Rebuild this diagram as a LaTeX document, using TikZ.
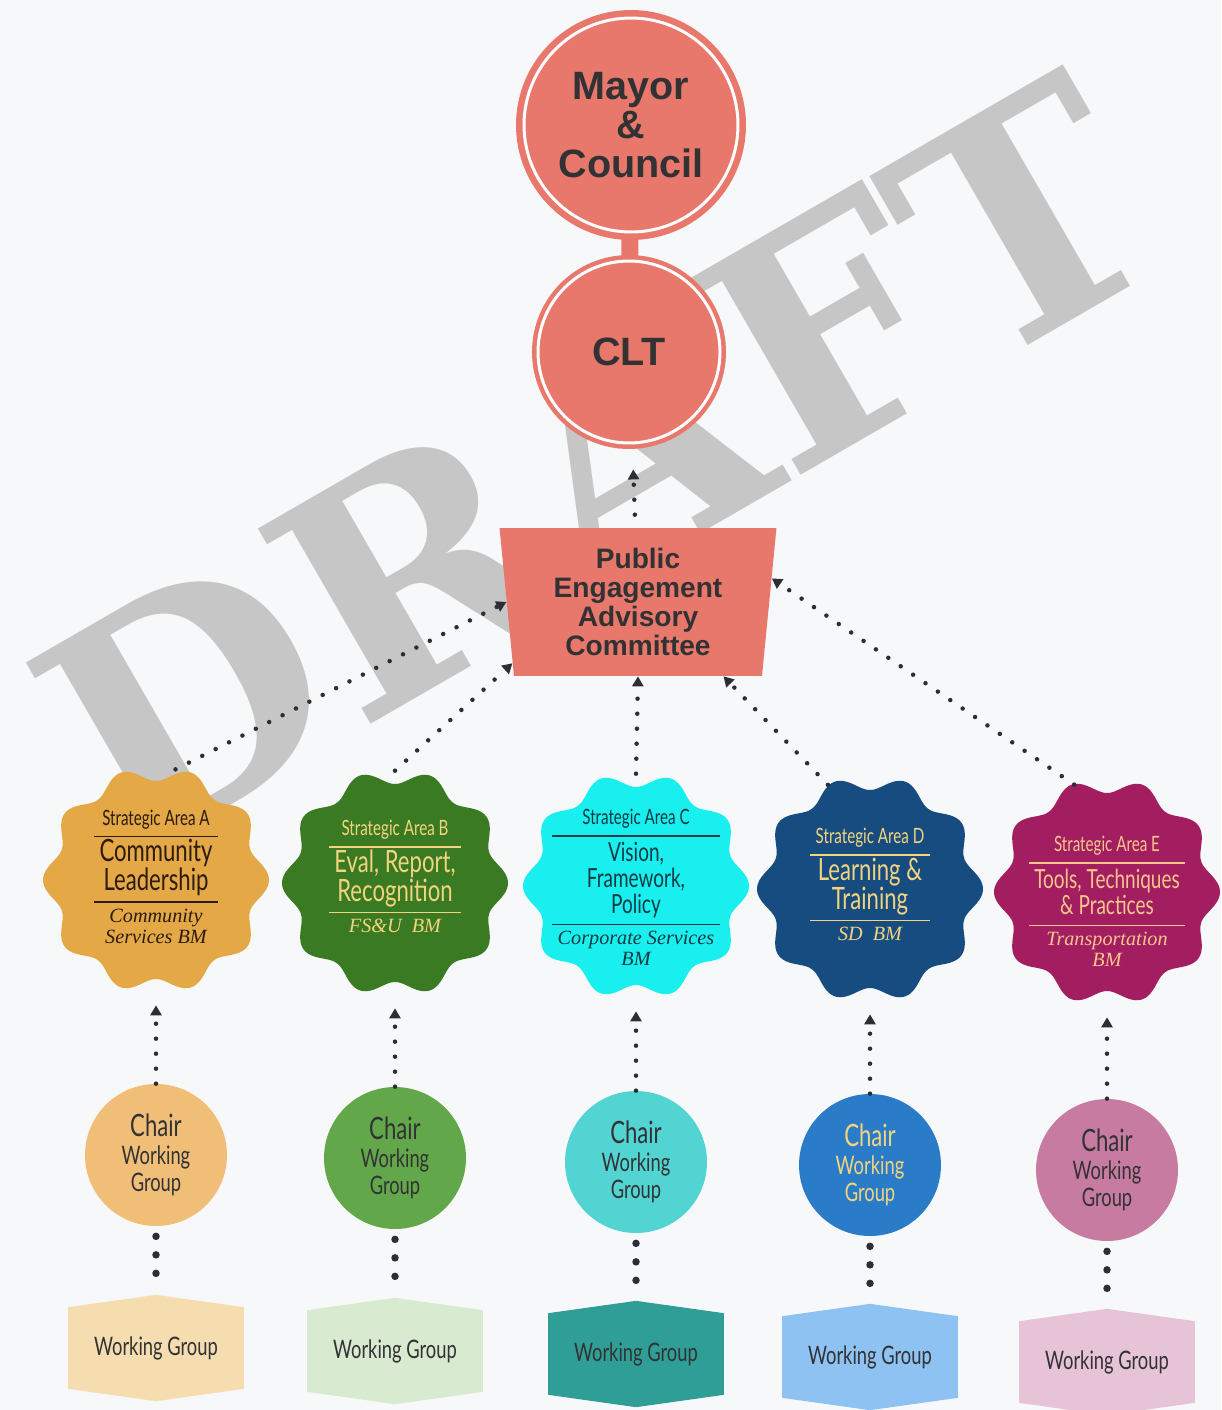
\documentclass[tikz,border=0pt]{standalone}
\usepackage{fontspec}
\usepackage{xcolor}
\usepackage{array}
\definecolor{paper}{RGB}{247,248,249}
\definecolor{salmon}{RGB}{232,120,107}
\definecolor{inkgray}{RGB}{50,50,52}
\definecolor{dotink}{RGB}{45,45,53}
\definecolor{areaA}{RGB}{229,168,70}
\definecolor{areaB}{RGB}{58,122,34}
\definecolor{areaC}{RGB}{26,239,239}
\definecolor{areaD}{RGB}{22,76,128}
\definecolor{areaE}{RGB}{162,30,96}
\definecolor{chairA}{RGB}{240,190,118}
\definecolor{chairB}{RGB}{98,168,74}
\definecolor{chairC}{RGB}{82,212,210}
\definecolor{chairD}{RGB}{42,124,200}
\definecolor{chairE}{RGB}{199,123,160}
\definecolor{groupA}{RGB}{246,221,176}
\definecolor{groupB}{RGB}{216,234,208}
\definecolor{groupC}{RGB}{46,158,150}
\definecolor{groupD}{RGB}{142,194,242}
\definecolor{groupE}{RGB}{230,195,214}
\definecolor{butter}{RGB}{243,212,126}
\definecolor{peach}{RGB}{246,198,140}
\definecolor{bark}{RGB}{43,27,16}
\definecolor{deepteal}{RGB}{15,58,66}
\newfontfamily\headfont{Liberation Sans}
\newfontfamily\condfont{Lato}[FakeStretch=0.72]
\newfontfamily\bmfont{Liberation Serif}
\newfontfamily\draftfont{DejaVu Serif}
\newcommand\tagsz{\condfont\fontsize{12}{12}\selectfont}
\newcommand\titlesz{\condfont\fontsize{17.5}{18}\selectfont}
\newcommand\midsz{\condfont\fontsize{15}{15}\selectfont}
\newcommand\bmsz{\bmfont\itshape\fontsize{11.5}{12}\selectfont}
\newcommand\chairsz{\condfont\fontsize{17.5}{17}\selectfont}
\newcommand\wgsz{\condfont\fontsize{14.5}{15.5}\selectfont}
% struts above and below the rules of the area texts
\newcommand\up{\rule{0pt}{14pt}}
\newcommand\bmup{\rule{0pt}{11pt}}
\newcommand\dn{\rule[-6pt]{0pt}{6pt}}
\newcommand\satext[2]{\smash{\makebox[0pt]{\raisebox{#1}{\begin{tabular}{c}#2\end{tabular}}}}}
\setlength\arrayrulewidth{0.9pt}
\setlength\tabcolsep{3pt}
\usetikzlibrary{shapes.geometric,shapes.symbols,arrows.meta}
\newcommand\scallop[3]{\fill[#3] plot[smooth cycle, domain=0:357.5, samples=144, variable=\t]
  ({#1+(106+7*cos(10*\t))*cos(\t)},{#2+(106+7*cos(10*\t))*sin(\t)});}

\tikzset{
  ring/.style={circle, fill=salmon, draw=white, line width=0.06cm,
    preaction={draw=salmon, line width=#1}, text=inkgray, align=center,
    font=\headfont\bfseries\fontsize{22.5}{22}\selectfont},
  peacbox/.style={trapezium, trapezium angle=82.3, shape border rotate=180,
    trapezium stretches body, minimum width=5.54cm, minimum height=2.96cm,
    inner sep=0pt, fill=salmon, text=inkgray, align=center,
    font=\headfont\bfseries\fontsize{16}{16.4}\selectfont},
  area/.style={circle, minimum size=4.48cm, inner sep=0pt, text=#1, font=\tagsz},
  chair/.style={circle, fill=#1, minimum size=2.84cm, inner sep=0pt,
    align=center, text=inkgray, font=\wgsz},
  group/.style={signal, signal to=north and south, signal pointer angle=164,
    fill=#1, minimum width=3.52cm, minimum height=1.98cm, inner sep=0pt,
    text=inkgray, font=\wgsz},
  dotarrow/.style={dotink, line width=0.09cm, line cap=round,
    dash pattern=on 0pt off 0.3cm, -{Triangle[length=0.2cm, width=0.22cm]}},
  bigdots/.style={dotink, line width=0.15cm, line cap=round,
    dash pattern=on 0pt off 0.37cm, shorten <=0.2cm, shorten >=0.18cm}
}

\begin{document}
\begin{tikzpicture}[x=0.02cm, y=-0.02cm]
\useasboundingbox[fill=paper] (0,0) rectangle (1221,1410);

\node[rotate=30, text=gray!45, font=\draftfont\bfseries\fontsize{176}{176}\selectfont] (draft) at (596,464) {DRAFT};

\node[ring=0.32cm, minimum size=4.28cm] (mayor) at (631,125) {Mayor\\\&\\Council};
\node[ring=0.24cm, minimum size=3.64cm] (clt) at (629,352) {CLT};
\draw[salmon, line width=0.34cm, shorten <=0.05cm, shorten >=0.05cm] (mayor) -- (clt);

\node[peacbox] (peac) at (638,602) {Public\\Engagement\\Advisory\\Committee};

\scallop{156}{880}{areaA}
\scallop{395}{883}{areaB}
\scallop{636}{886}{areaC}
\scallop{870}{889}{areaD}
\scallop{1107}{892}{areaE}

\node[area=bark] (saA) at (156,880) {\satext{-0.1cm}{
  \tagsz Strategic Area A\dn\\ \hline
  \titlesz\up Community\\ \titlesz Leadership\dn\\ \hline
  \bmsz\bmup Community\\ \bmsz Services BM}};
\node[area=butter] (saB) at (395,883) {\satext{-0.04cm}{
  \tagsz Strategic Area B\dn\\ \hline
  \titlesz\up Eval, Report,\\ \titlesz Recognition\dn\\ \hline
  \bmsz\bmup FS\&U\ \ BM}};
\node[area=deepteal] (saC) at (636,886) {\satext{-0.2cm}{
  \tagsz Strategic Area C\dn\\ \hline
  \midsz\up Vision,\\ \midsz Framework,\\ \midsz Policy\dn\\ \hline
  \bmsz\bmup Corporate Services\\ \bmsz BM}};
\node[area=butter] (saD) at (870,889) {\satext{-0.08cm}{
  \tagsz Strategic Area D\dn\\ \hline
  \titlesz\up Learning \&\\ \titlesz Training\dn\\ \hline
  \bmsz\bmup SD\ \ BM}};
\node[area=peach] (saE) at (1107,892) {\satext{-0.36cm}{
  \tagsz Strategic Area E\dn\\ \hline
  \midsz\up Tools, Techniques\\ \midsz \& Practices\dn\\ \hline
  \bmsz\bmup Transportation\\ \bmsz BM}};

\node[chair=chairA] (chA) at (156,1155) {{\chairsz Chair}\\Working\\Group};
\node[chair=chairB] (chB) at (395,1158) {{\chairsz Chair}\\Working\\Group};
\node[chair=chairC] (chC) at (636,1162) {{\chairsz Chair}\\Working\\Group};
\node[chair=chairD, text=butter] (chD) at (870,1165) {{\chairsz Chair}\\Working\\Group};
\node[chair=chairE] (chE) at (1107,1170) {{\chairsz Chair}\\Working\\Group};

\node[group=groupA] (wgA) at (156,1348) {Working Group};
\node[group=groupB] (wgB) at (395,1351) {Working Group};
\node[group=groupC] (wgC) at (636,1354) {Working Group};
\node[group=groupD] (wgD) at (870,1357) {Working Group};
\node[group=groupE] (wgE) at (1107,1362) {Working Group};

\draw[dotarrow, shorten <=0.26cm, shorten >=0.5cm] (peac) -- (clt);
\draw[dotarrow] (saA.80) -- (peac.west);
\draw[dotarrow] (saB.north) -- (peac.206);
\draw[dotarrow] (saC.north) -- (peac.south);
\draw[dotarrow] (saD.112) -- (peac.319);
\draw[dotarrow] (saE.107) -- (peac.10);

\draw[dotarrow, shorten >=0.26cm] (chA) -- (saA);
\draw[dotarrow, shorten >=0.26cm] (chB) -- (saB);
\draw[dotarrow, shorten >=0.26cm] (chC) -- (saC);
\draw[dotarrow, shorten >=0.26cm] (chD) -- (saD);
\draw[dotarrow, shorten >=0.26cm] (chE) -- (saE);

\draw[bigdots] (chA) -- (wgA);
\draw[bigdots] (chB) -- (wgB);
\draw[bigdots] (chC) -- (wgC);
\draw[bigdots] (chD) -- (wgD);
\draw[bigdots] (chE) -- (wgE);
\end{tikzpicture}
\end{document}
